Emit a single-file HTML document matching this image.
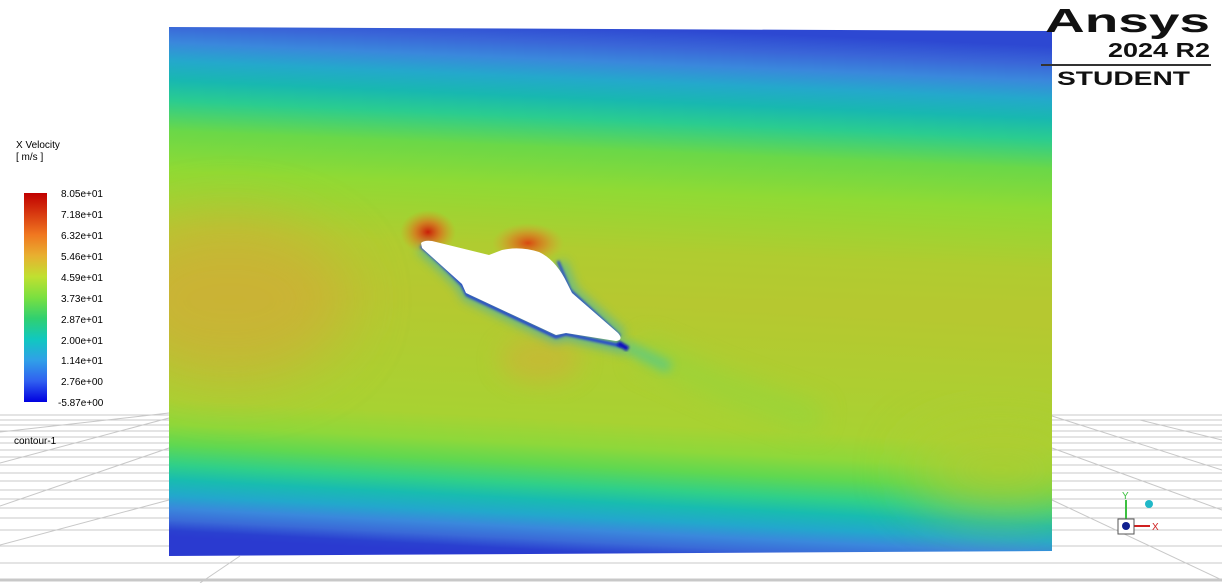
<!DOCTYPE html>
<html><head><meta charset="utf-8"><style>
html,body{margin:0;padding:0;background:#fff;}
body{width:1222px;height:583px;overflow:hidden;position:relative;font-family:"Liberation Sans",sans-serif;}
svg{position:absolute;left:0;top:0;}
</style></head><body>
<svg width="1222" height="583" viewBox="0 0 1222 583">
<defs>
<linearGradient id="top" gradientUnits="userSpaceOnUse" x1="0" y1="27" x2="0" y2="300" gradientTransform="rotate(2.5 610 100)">
<stop offset="0" stop-color="#2d48d2"/>
<stop offset="0.066" stop-color="#3a66d8"/>
<stop offset="0.128" stop-color="#3a88dc"/>
<stop offset="0.194" stop-color="#24a8cc"/>
<stop offset="0.267" stop-color="#18b8b0"/>
<stop offset="0.34" stop-color="#2acc90"/>
<stop offset="0.45" stop-color="#6ad848"/>
<stop offset="0.597" stop-color="#90da34"/>
<stop offset="0.817" stop-color="#b0cc30"/>
<stop offset="1" stop-color="#b6c830"/>
</linearGradient>
<linearGradient id="bot" gradientUnits="userSpaceOnUse" x1="0" y1="300" x2="0" y2="560" gradientTransform="rotate(3 610 500)">
<stop offset="0" stop-color="#b6c830"/>
<stop offset="0.47" stop-color="#a8d232"/>
<stop offset="0.568" stop-color="#8ed83a"/>
<stop offset="0.645" stop-color="#60d850"/>
<stop offset="0.722" stop-color="#30d088"/>
<stop offset="0.78" stop-color="#18bcb0"/>
<stop offset="0.84" stop-color="#22a8cc"/>
<stop offset="0.89" stop-color="#3a88dc"/>
<stop offset="0.935" stop-color="#3a6ad8"/>
<stop offset="0.975" stop-color="#2a40d0"/>
<stop offset="1" stop-color="#2a3ad0"/>
</linearGradient>
<linearGradient id="cbar" x1="0" y1="0" x2="0" y2="1">
<stop offset="0" stop-color="#c00000"/>
<stop offset="0.1" stop-color="#d83a10"/>
<stop offset="0.2" stop-color="#f07820"/>
<stop offset="0.3" stop-color="#e8b030"/>
<stop offset="0.4" stop-color="#c0e030"/>
<stop offset="0.5" stop-color="#7ae040"/>
<stop offset="0.6" stop-color="#30d070"/>
<stop offset="0.7" stop-color="#10c8c0"/>
<stop offset="0.8" stop-color="#30a0e8"/>
<stop offset="0.9" stop-color="#3060f0"/>
<stop offset="1" stop-color="#0000e0"/>
</linearGradient>
<radialGradient id="red1"><stop offset="0" stop-color="#c81e08"/><stop offset="0.45" stop-color="#e0601a" stop-opacity="0.7"/><stop offset="1" stop-color="#e0901a" stop-opacity="0"/></radialGradient>
<radialGradient id="red2"><stop offset="0" stop-color="#d84810"/><stop offset="0.5" stop-color="#e07820" stop-opacity="0.6"/><stop offset="1" stop-color="#e0a030" stop-opacity="0"/></radialGradient>
<filter id="b30" x="-50%" y="-50%" width="200%" height="200%"><feGaussianBlur stdDeviation="30"/></filter>
<filter id="b12" x="-50%" y="-50%" width="200%" height="200%"><feGaussianBlur stdDeviation="12"/></filter>
<filter id="b5" x="-50%" y="-50%" width="200%" height="200%"><feGaussianBlur stdDeviation="5"/></filter>
<filter id="b2" x="-50%" y="-50%" width="200%" height="200%"><feGaussianBlur stdDeviation="1.2"/></filter>
<clipPath id="dom"><polygon points="169,27 1052,31 1052,551 169,556"/></clipPath>
</defs>

<g stroke="#c8c8c8" stroke-width="1" fill="none">
<path d="M0 415H1222M0 420H1222M0 425H1222M0 431H1222M0 437H1222M0 443H1222M0 450H1222M0 457H1222M0 465H1222M0 473H1222M0 481H1222M0 490H1222M0 499H1222M0 508H1222M0 518H1222M0 530H1222M0 546H1222M0 563H1222"/>
<path d="M0 432L169 413M0 463L169 418M0 506L169 448M0 545L169 500M200 583L240 556M1052 416L1222 470M1052 448L1222 510M1052 500L1222 580M1140 420L1222 440"/>
<path d="M0 580H1222" stroke-width="3"/>
</g>

<g clip-path="url(#dom)">
<rect x="160" y="20" width="900" height="281" fill="url(#top)"/>
<rect x="160" y="300" width="900" height="265" fill="url(#bot)"/>
<ellipse cx="230" cy="300" rx="120" ry="80" fill="#d8a638" opacity="0.6" filter="url(#b30)"/>
<ellipse cx="540" cy="360" rx="40" ry="22" fill="#d8aa38" opacity="0.5" filter="url(#b12)"/>
<ellipse cx="1000" cy="470" rx="90" ry="40" fill="#b2ca30" opacity="0.8" filter="url(#b30)"/>
<path d="M640 350 L720 385 L820 420" stroke="#8ed83e" stroke-width="30" fill="none" opacity="0.5" filter="url(#b12)"/>
<path d="M626 346 L670 368" stroke="#40c8a0" stroke-width="12" fill="none" opacity="0.6" filter="url(#b5)"/>
<ellipse cx="428" cy="232" rx="28" ry="22" fill="url(#red1)"/>
<ellipse cx="528" cy="243" rx="36" ry="20" fill="url(#red2)"/>
<path d="M421 247 Q440 262 462 285 L467 295 L556 337 L566 334 L626 348" stroke="#2aa8d0" stroke-width="12" fill="none" opacity="0.55" filter="url(#b5)"/>
<path d="M560 262 L572 292 L622 336" stroke="#30b0c8" stroke-width="12" fill="none" opacity="0.55" filter="url(#b5)"/>
<path d="M421 246 Q440 262 462 285 L467 295 L556 337 L566 334 L622 346" stroke="#1a3ad8" stroke-width="3" fill="none" filter="url(#b2)"/>
<path d="M558 261 L570 290 L620 336" stroke="#1a40d8" stroke-width="2.5" fill="none" filter="url(#b2)"/>
<path d="M618 343 L628 349" stroke="#0808c0" stroke-width="5" fill="none" filter="url(#b2)"/>
<path d="M421 243 Q424 240 432 241 L489 255 L502 250 Q520 246 539 252 Q556 260 567 283 L572 293 L618 333 Q624 340 616 341 L566 333 L556 335 L466 293 L462 284 L422 248 Z" fill="#fff"/>
</g>

<g font-size="10" fill="#000">
<text x="16" y="148">X Velocity</text>
<text x="16" y="160">[ m/s ]</text>
<rect x="24" y="193" width="23" height="209" fill="url(#cbar)"/>
<g font-size="10">
<text x="61" y="197">8.05e+01</text>
<text x="61" y="218">7.18e+01</text>
<text x="61" y="239">6.32e+01</text>
<text x="61" y="260">5.46e+01</text>
<text x="61" y="281">4.59e+01</text>
<text x="61" y="302">3.73e+01</text>
<text x="61" y="323">2.87e+01</text>
<text x="61" y="344">2.00e+01</text>
<text x="61" y="364">1.14e+01</text>
<text x="61" y="385">2.76e+00</text>
<text x="58" y="406">-5.87e+00</text>
</g>
<text x="14" y="444">contour-1</text>
</g>

<g font-weight="bold" fill="#111">
<text x="1045" y="32" font-size="33" textLength="165" lengthAdjust="spacingAndGlyphs">Ansys</text>
<text x="1108" y="57" font-size="20" textLength="102" lengthAdjust="spacingAndGlyphs">2024 R2</text>
<rect x="1041" y="64" width="170" height="2" fill="#333"/>
<text x="1057" y="85" font-size="19" textLength="133" lengthAdjust="spacingAndGlyphs">STUDENT</text>
</g>

<g>
<line x1="1126" y1="521" x2="1126" y2="500" stroke="#3cc040" stroke-width="2"/>
<text x="1122" y="499" font-size="10" fill="#3cc040">Y</text>
<line x1="1134" y1="526" x2="1150" y2="526" stroke="#d02020" stroke-width="2"/>
<text x="1152" y="530" font-size="10" fill="#d02020">X</text>
<rect x="1118" y="519" width="16" height="15" fill="#fff" stroke="#555"/>
<circle cx="1126" cy="526" r="4" fill="#102090"/>
<circle cx="1149" cy="504" r="4" fill="#20b8c8"/>
</g>
</svg>
</body></html>
